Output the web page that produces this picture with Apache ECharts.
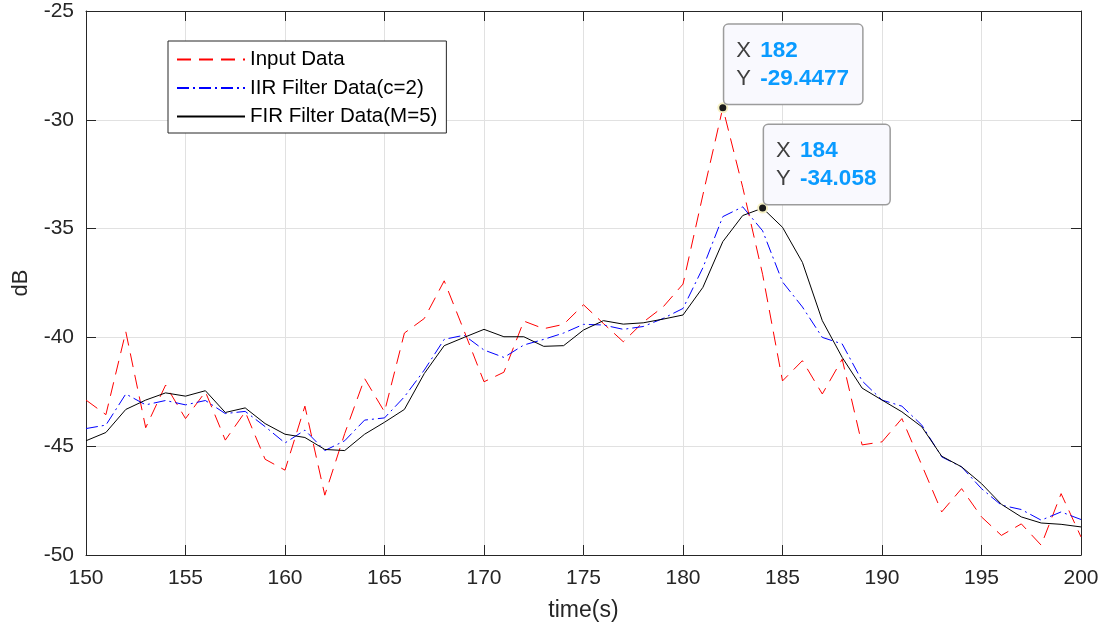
<!DOCTYPE html>
<html>
<head>
<meta charset="utf-8">
<script src="https://cdn.jsdelivr.net/npm/echarts@6/dist/echarts.min.js"></script>
<style>
html,body{margin:0;padding:0;background:#fff;}
#chart{width:1106px;height:631px;}
</style>
</head>
<body>
<div id="chart"></div>
<script>
// ---- data ----
const time = [150,151,152,153,154,155,156,157,158,159,160,161,162,163,164,165,166,167,168,169,170,
  171,172,173,174,175,176,177,178,179,180,181,182,183,184,185,186,187,188,189,190,
  191,192,193,194,195,196,197,198,199,200];
const inputData = [-42.88,-43.55,-39.74,-44.15,-42.19,-43.73,-42.5,-44.72,-43.42,-45.6,-46.1,
  -43.16,-47.25,-44.42,-41.89,-43.42,-39.8,-39.13,-37.4,-39.7,-42.04,
  -41.6,-39.25,-39.6,-39.4,-38.5,-39.36,-40.2,-39.3,-38.6,-37.55,
  -33.45,-29.4477,-33.1,-37.1,-42.0,-41.07,-42.6,-41.0,-44.94,-44.8,
  -43.73,-45.87,-48.02,-46.95,-48.25,-49.1,-48.57,-49.55,-47.18,-49.17];
const iirData = [-44.19,-44.03,-42.6,-43.1,-42.9,-43.1,-42.9,-43.5,-43.4,-44.1,-44.85,
  -44.26,-45.2,-44.75,-43.8,-43.7,-42.73,-41.5,-40.09,-39.9,-40.58,
  -40.92,-40.35,-40.09,-39.8,-39.4,-39.43,-39.63,-39.5,-39.13,-38.67,
  -36.8,-34.45,-34.0,-35.1,-37.45,-38.6,-40.0,-40.3,-42.0,-42.88,
  -43.16,-44.03,-45.49,-45.95,-46.95,-47.71,-47.91,-48.4,-48.02,-48.37];
const firData = [-44.75,-44.37,-43.31,-42.88,-42.55,-42.7,-42.45,-43.45,-43.24,-43.96,-44.45,
  -44.6,-45.15,-45.2,-44.45,-43.9,-43.31,-41.66,-40.38,-40.0,-39.63,
  -39.97,-39.97,-40.41,-40.38,-39.66,-39.23,-39.39,-39.33,-39.16,-38.97,
  -37.7,-35.6,-34.4,-34.058,-34.94,-36.55,-39.23,-40.92,-42.33,-42.88,
  -43.42,-44.11,-45.46,-45.95,-46.72,-47.67,-48.25,-48.53,-48.59,-48.71];
const seriesNames = ['Input Data','IIR Filter Data(c=2)','FIR Filter Data(M=5)'];
const xTicks = {min:150, max:200, interval:5};
const yTicks = {min:-50, max:-25, interval:5};
const xName = 'time(s)';
const yName = 'dB';
const tipInputIndex = 32;  // time 182
const tipFirIndex = 34;    // time 184

// ---- chart ----
const FONT = "'Liberation Sans', Arial, Helvetica, sans-serif";
const AX = '#262626';
const pairs = arr => arr.map((v,i)=>[time[i], v]);

function tip(idx, arr){
  return {
    coord:[time[idx], arr[idx]],
    symbol:'circle', symbolSize:9,
    itemStyle:{color:'#1a1a1a', borderColor:'#f6f1c4', borderWidth:2},
    label:{
      show:true,
      position:[7, 1.5],
      align:'left', verticalAlign:'bottom',
      formatter:'{k|X}{v|' + time[idx] + '}\n{k|Y}{v|' + arr[idx] + '}',
      backgroundColor:'#f9f9fe',
      borderColor:'#9c9c9c', borderWidth:1.5, borderRadius:4,
      padding:[12,13,11,12],
      rich:{
        k:{fontFamily:FONT, fontSize:22, color:'#404040', lineHeight:28, width:24},
        v:{fontFamily:FONT, fontSize:22.5, fontWeight:'bold', color:'#0a9bff', lineHeight:28}
      }
    }
  };
}

const chart = echarts.init(document.getElementById('chart'), null, {renderer:'canvas'});
const axisCommon = {
  axisLine:{show:true, onZero:false, lineStyle:{color:AX, width:1}},
  axisTick:{show:true, inside:true, length:10, lineStyle:{color:AX, width:1}},
};
chart.setOption({
  animation:false,
  backgroundColor:'#ffffff',
  grid:{left:86, right:25, top:11, bottom:76, outerBoundsMode:'none', containLabel:false},
  legend:{
    orient:'vertical', left:168, top:41,
    data:seriesNames,
    itemWidth:68, itemHeight:14, itemGap:7.5,
    padding:[8,9,6,8],
    borderColor:'#262626', borderWidth:1, backgroundColor:'#ffffff',
    itemStyle:{opacity:0},
    textStyle:{fontFamily:FONT, fontSize:20.5, color:'#000'}
  },
  xAxis:[
    Object.assign({type:'value', min:xTicks.min, max:xTicks.max, interval:xTicks.interval,
      name:xName, nameLocation:'middle', nameGap:44,
      nameTextStyle:{fontFamily:FONT, fontSize:23, color:AX},
      axisLabel:{fontFamily:FONT, fontSize:21, color:AX, margin:13},
      splitLine:{show:true, lineStyle:{color:'#e1e1e1', width:1}}}, axisCommon),
    Object.assign({type:'value', position:'top', min:xTicks.min, max:xTicks.max, interval:xTicks.interval,
      axisLabel:{show:false}, splitLine:{show:false}}, axisCommon)
  ],
  yAxis:[
    Object.assign({type:'value', min:yTicks.min, max:yTicks.max, interval:yTicks.interval,
      name:yName, nameLocation:'middle', nameGap:54,
      nameTextStyle:{fontFamily:FONT, fontSize:22, color:AX},
      axisLabel:{fontFamily:FONT, fontSize:21, color:AX, margin:12},
      splitLine:{show:true, lineStyle:{color:'#e1e1e1', width:1}}}, axisCommon),
    Object.assign({type:'value', position:'right', min:yTicks.min, max:yTicks.max, interval:yTicks.interval,
      axisLabel:{show:false}, splitLine:{show:false}}, axisCommon)
  ],
  series:[
    {name:seriesNames[0], type:'line', data:pairs(inputData), showSymbol:false, symbol:'none',
      lineStyle:{color:'#ff0000', width:1, type:[14,8]}, itemStyle:{color:'#ff0000'}, z:2,
      markPoint:{z:10, data:[tip(tipInputIndex, inputData)]}},
    {name:seriesNames[1], type:'line', data:pairs(iirData), showSymbol:false, symbol:'none',
      lineStyle:{color:'#0000ff', width:1, type:[12,4,2,4]}, itemStyle:{color:'#0000ff'}, z:3},
    {name:seriesNames[2], type:'line', data:pairs(firData), showSymbol:false, symbol:'none',
      lineStyle:{color:'#000000', width:1}, itemStyle:{color:'#000000'}, z:4,
      markPoint:{z:10, data:[tip(tipFirIndex, firData)]}}
  ]
});
</script>
</body>
</html>
